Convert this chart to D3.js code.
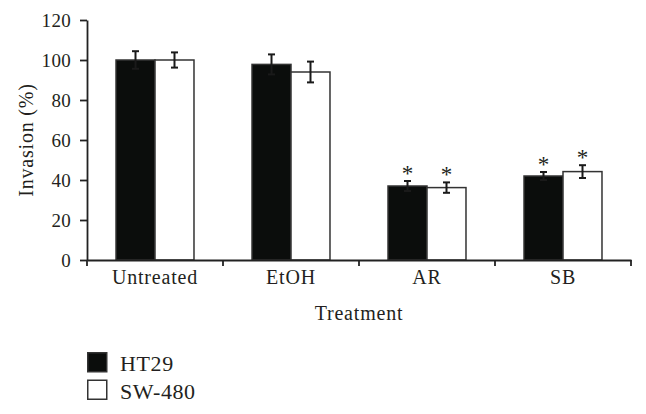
<!DOCTYPE html>
<html>
<head>
<meta charset="utf-8">
<script src="https://cdn.jsdelivr.net/npm/d3@7"></script>
<style>
  html, body { margin: 0; padding: 0; background: #fff; }
  svg { display: block; }
</style>
</head>
<body>
<svg id="chart" width="646" height="414"></svg>
<script>
// ---- Data ----
const categories = ["Untreated", "EtOH", "AR", "SB"];
const seriesNames = ["HT29", "SW-480"];
const ht29Values = [100, 97.8, 37, 42];
const ht29Errors = [4.4, 5, 2.5, 2];
const sw480Values = [100, 94, 36.2, 44.2];
const sw480Errors = [3.8, 5.2, 2.6, 3.2];
const significant = [false, false, true, true];
const yTicks = [0, 20, 40, 60, 80, 100, 120];
const seriesFills = ["#0b0d0c", "#ffffff"];

(function () {
const FONT = "'Liberation Serif', 'Times New Roman', serif";
const TEXT = "#231f20";
const svg = d3.select("#chart");
const plotLeft = 87, plotRight = 631, plotTop = 20, plotBottom = 260;

const y = d3.scaleLinear().domain([0, 120]).range([plotBottom, plotTop]);
const x0 = d3.scaleBand().domain(categories).range([plotLeft, plotRight]).padding(0);
const x1 = d3.scaleBand().domain(seriesNames).range([0, x0.bandwidth()])
  .paddingInner(0).paddingOuter(0.744);

const rows = categories.map((c, i) => ({
  cat: c,
  sig: significant[i],
  bars: [
    { name: seriesNames[0], v: ht29Values[i], e: ht29Errors[i] },
    { name: seriesNames[1], v: sw480Values[i], e: sw480Errors[i] }
  ]
}));
const fill = d3.scaleOrdinal().domain(seriesNames).range(seriesFills);

// Bars
const g = svg.append("g");
const groups = g.selectAll("g.cat").data(rows).join("g")
  .attr("class", "cat")
  .attr("transform", d => `translate(${x0(d.cat)},0)`);

groups.selectAll("rect").data(d => d.bars).join("rect")
  .attr("x", d => x1(d.name))
  .attr("y", d => y(d.v))
  .attr("width", x1.bandwidth())
  .attr("height", d => y(0) - y(d.v))
  .attr("fill", d => fill(d.name))
  .attr("stroke", "#333")
  .attr("stroke-width", 1.5);

// Error bars
const capW = 3.5;
groups.each(function(d) {
  const gg = d3.select(this);
  d.bars.forEach(b => {
    const cx = x1(b.name) + x1.bandwidth() / 2;
    const eg = gg.append("g").attr("stroke", "#1a1a1a").attr("stroke-width", 2);
    eg.append("line").attr("x1", cx).attr("x2", cx).attr("y1", y(b.v + b.e)).attr("y2", y(b.v - b.e));
    eg.append("line").attr("x1", cx - capW).attr("x2", cx + capW).attr("y1", y(b.v + b.e)).attr("y2", y(b.v + b.e));
    eg.append("line").attr("x1", cx - capW).attr("x2", cx + capW).attr("y1", y(b.v - b.e)).attr("y2", y(b.v - b.e));
    if (d.sig) {
      gg.append("text")
        .attr("x", cx)
        .attr("y", y(b.v + b.e) - 0.5)
        .attr("text-anchor", "middle")
        .style("font-family", FONT)
        .style("font-size", "23px")
        .attr("fill", TEXT)
        .text("*");
    }
  });
});

// Y axis
const yAxis = svg.append("g")
  .attr("transform", `translate(${plotLeft},0)`)
  .call(d3.axisLeft(y).tickValues(yTicks).tickSizeInner(7).tickSizeOuter(0).tickPadding(9));
yAxis.select(".domain").attr("stroke", "#222").attr("stroke-width", 1.8);
yAxis.selectAll(".tick line").attr("stroke", "#222").attr("stroke-width", 1.8);
yAxis.selectAll(".tick text")
  .style("font-family", FONT)
  .style("font-size", "19px")
  .attr("letter-spacing", "0.3px")
  .attr("fill", TEXT);

// X axis
const xAxis = svg.append("g")
  .attr("transform", `translate(0,${plotBottom})`)
  .call(d3.axisBottom(x0).tickSize(0).tickPadding(10));
xAxis.select(".domain").attr("stroke", "#222").attr("stroke-width", 1.8);
xAxis.selectAll(".tick text")
  .style("font-family", FONT)
  .style("font-size", "20px")
  .attr("letter-spacing", "0.8px")
  .attr("fill", TEXT);
// boundary ticks
const bounds = categories.map(c => x0(c)).concat([x0(categories[categories.length - 1]) + x0.step()]);
xAxis.selectAll("line.bound").data(bounds).join("line")
  .attr("class", "bound")
  .attr("x1", d => d).attr("x2", d => d)
  .attr("y1", 0).attr("y2", 6)
  .attr("stroke", "#222").attr("stroke-width", 1.8);

// Axis titles
svg.append("text")
  .attr("x", (plotLeft + plotRight) / 2)
  .attr("y", 320)
  .attr("text-anchor", "middle")
  .style("font-family", FONT)
  .style("font-size", "20px")
  .attr("letter-spacing", "0.8px")
  .attr("fill", TEXT)
  .text("Treatment");

svg.append("text")
  .attr("transform", `translate(33,${y(60)}) rotate(-90)`)
  .attr("text-anchor", "middle")
  .style("font-family", FONT)
  .style("font-size", "20px")
  .attr("letter-spacing", "0.8px")
  .attr("fill", TEXT)
  .text("Invasion (%)");

// Legend
const legend = svg.append("g").attr("transform", "translate(87,352)");
const li = legend.selectAll("g").data(seriesNames).join("g")
  .attr("transform", (d, i) => `translate(0,${i * 27.5})`);
li.append("rect")
  .attr("x", 0.75).attr("y", 0.75)
  .attr("width", 19).attr("height", 19)
  .attr("fill", d => fill(d))
  .attr("stroke", "#333").attr("stroke-width", 1.5);
li.append("text")
  .attr("x", 33).attr("y", 19)
  .style("font-family", FONT)
  .style("font-size", "22px")
  .attr("letter-spacing", "0.6px")
  .attr("fill", TEXT)
  .text(d => d);
})();
</script>
</body>
</html>
